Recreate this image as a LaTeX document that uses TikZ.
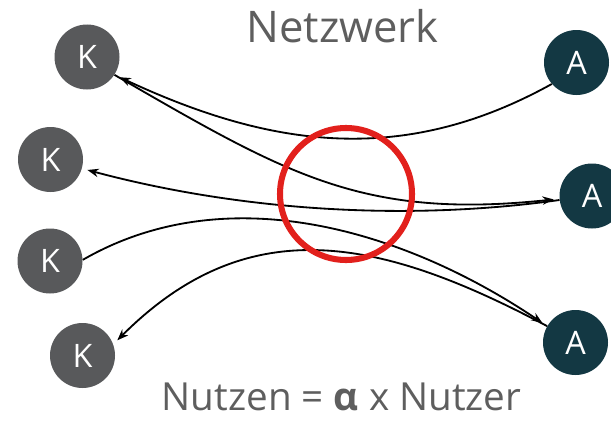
\documentclass[tikz,border=0pt]{standalone}
\usepackage{fontspec}
\setmainfont{Open Sans}
\usepackage{tikz}
\usetikzlibrary{arrows.meta}

\definecolor{kgray}{HTML}{58595B}
\definecolor{ateal}{HTML}{133843}
\definecolor{textgray}{HTML}{5E5E5E}
\definecolor{ringred}{HTML}{E2201C}

\tikzset{
    kunde/.style={circle, fill=kgray, text=white, minimum size=1.625cm, inner sep=0pt,
        font=\fontsize{23}{23}\selectfont},
    anbieter/.style={kunde, fill=ateal},
    link/.style={->, >={Stealth[length=8pt,width=6pt]}, line width=1.3pt, shorten >=4pt},
}

\begin{document}
\begin{tikzpicture}
    \useasboundingbox (0,0) rectangle (15.275,10.525);

    % Title
    \node[anchor=base, text=textgray, font=\fontsize{31}{31}\selectfont] (titel) at (8.5625,9.475) {Netzwerk};

    % Kunden (left)
    \node[kunde] (k1) at (2.175,9.1) {K};
    \node[kunde] (k2) at (1.2625,6.5375) {K};
    \node[kunde] (k3) at (1.25,4.0) {K};
    \node[kunde] (k4) at (2.0625,1.6375) {K};

    % Anbieter (right)
    \node[anbieter] (a1) at (14.4125,8.9625) {A};
    \node[anbieter] (a2) at (14.8,5.625) {A};
    \node[anbieter] (a3) at (14.3875,1.9625) {A};

    % Connections
    \draw[link] (a1.221) to[out=209, in=-25] (k1.-33);
    \draw[link] (k1.-33) to[out=-30, in=186, looseness=1.1] (a2.185);
    \draw[link] (a2.187) to[out=188, in=-15, looseness=0.85] (k2.-16);
    \draw[link] (k3.2) to[out=30, in=146, looseness=0.92] (a3.150);
    \draw[link] (a3.150) to[out=152, in=45, looseness=1.12] (k4.20);

    % Ring in the middle
    \draw[ringred, line width=4.3pt] (8.65,5.675) circle (1.65cm);

    % Formula
    \node[anchor=base, text=textgray, font=\fontsize{27.5}{27.5}\selectfont] (formel) at (8.54,0.275)
        {Nutzen = {\bfseries α} x Nutzer};
\end{tikzpicture}
\end{document}
